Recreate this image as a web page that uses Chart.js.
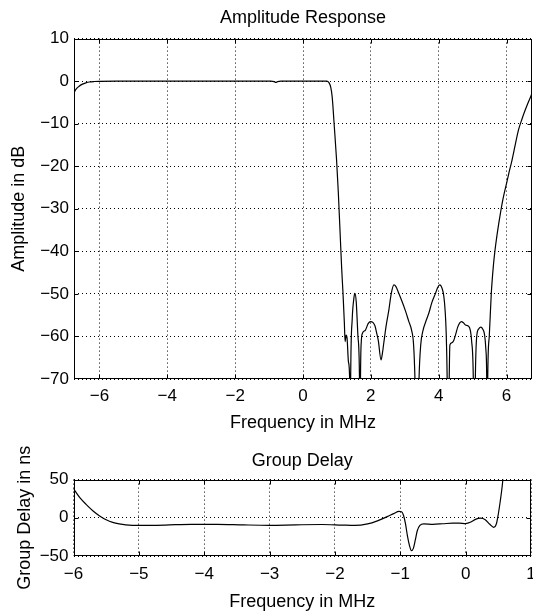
<!DOCTYPE html>
<html>
<head>
<meta charset="utf-8">
<title>Amplitude Response and Group Delay</title>
<script src="https://cdn.jsdelivr.net/npm/chart.js@4.4.1/dist/chart.umd.min.js"></script>
<style>
  html, body { margin: 0; padding: 0; background: #fff; }
  #wrap { position: relative; width: 533px; height: 613px; }
  canvas { position: absolute; left: 0; }
</style>
</head>
<body>
<div id="wrap">
  <canvas id="amp" width="533" height="440" style="top:0"></canvas>
  <canvas id="gd" width="533" height="173" style="top:440px"></canvas>
</div>
<script>
// amplitude response (MHz, dB) - values below -70 are the filter nulls, clipped by the axis
const ampFreq = [
  -6.75, -6.7, -6.6, -6.5, -6.4, -6.3, -6.15, -6.0, -5.5, -4, -2, -0.95, -0.85, -0.8, -0.75, -0.65,
  0, 0.7, 0.76, 0.82, 0.86, 0.93, 0.99, 1.04, 1.09, 1.14, 1.18, 1.22, 1.24, 1.27, 1.3, 1.34,
  1.375, 1.39, 1.405, 1.45, 1.5, 1.53, 1.57, 1.62, 1.665, 1.68, 1.695, 1.72, 1.75, 1.84, 1.92,
  1.99, 2.06, 2.12, 2.18, 2.22, 2.3, 2.34, 2.38, 2.45, 2.53, 2.6, 2.68, 2.74, 2.82, 2.92, 3.02,
  3.12, 3.2, 3.26, 3.3, 3.36, 3.42, 3.47, 3.54, 3.62, 3.71, 3.8, 3.9, 3.97, 4.03, 4.1, 4.15,
  4.19, 4.22, 4.25, 4.28, 4.31, 4.33, 4.38, 4.44, 4.5, 4.56, 4.62, 4.67, 4.73, 4.79, 4.88, 4.93,
  4.97, 5.02, 5.05, 5.08, 5.12, 5.18, 5.24, 5.3, 5.35, 5.39, 5.415, 5.43, 5.445, 5.49, 5.55,
  5.61, 5.66, 5.74, 5.82, 5.9, 6.0, 6.08, 6.16, 6.26, 6.35, 6.45, 6.55, 6.65, 6.75
];
const ampDb = [
  -2.8, -2.0, -1.2, -0.7, -0.4, -0.2, -0.08, -0.03, 0, 0, 0, 0, -0.1, -0.3, -0.1, 0,
  0, 0, -0.3, -1.5, -3.7, -11.5, -18.6, -26, -35, -44, -50, -57, -61.2, -59.7, -60.5, -66,
  -70, -95, -70, -56, -51, -49.9, -52, -60, -70, -95, -70, -61, -59.3, -58.5, -57,
  -56.5, -56.7, -57.5, -59.5, -61, -65.5, -64, -61.6, -57.5, -53.8, -50, -47.9, -48.3, -49.8, -51.8, -54,
  -56.5, -58.5, -62, -70, -95, -70, -62, -58.5, -56.5, -54.5, -52, -50, -48.5, -47.9, -48.7, -50.5,
  -54, -59, -70, -95, -70, -62, -61.5, -61, -59.5, -57.8, -56.8, -56.5, -56.8, -57.3, -57.6, -58.5,
  -61, -70, -95, -70, -60, -58.2, -57.8, -58.3, -59.5, -63, -70, -95, -70, -60, -49.9,
  -43.5, -39.7, -35, -31, -27.5, -24, -21.2, -18.6, -14.8, -11.5, -9, -6.8, -4.8, -2.9
];
const ampXTicks = [-6, -4, -2, 0, 2, 4, 6];
const ampYTicks = [10, 0, -10, -20, -30, -40, -50, -60, -70];

// group delay (MHz, ns)
const gdFreq = [
  -6.0, -5.9, -5.8, -5.7, -5.6, -5.5, -5.4, -5.3, -5.2, -5.0, -4.6, -4.2, -3.8, -3.4, -3.0, -2.6,
  -2.2, -1.9, -1.7, -1.5, -1.35, -1.2, -1.1, -1.02, -0.98, -0.95, -0.92, -0.89, -0.86, -0.83, -0.8,
  -0.77, -0.74, -0.7, -0.64, -0.5, -0.35, -0.2, -0.1, 0.0, 0.08, 0.15, 0.23, 0.3, 0.37, 0.43, 0.47,
  0.5, 0.53, 0.56, 0.58
];
const gdNs = [
  38, 26, 17, 9, 2.5, -2.5, -6, -8, -9.2, -10, -9.5, -8.5, -8.5, -9.3, -9.8, -9.2,
  -8.8, -9.5, -10, -8, -4, 1.5, 5.5, 8.5, 8, 3, -8, -24, -36, -43, -40,
  -29, -17, -10, -8, -8.5, -7.8, -7, -7, -7.5, -5.5, -2, -0.5, -2.5, -8.5, -12.5, -8,
  5, 22, 42, 60
];
const gdXTicks = [-6, -5, -4, -3, -2, -1, 0, 1];
const gdYTicks = [50, 0, -50];

const FONT = "'Liberation Sans', Arial, Helvetica, sans-serif";
const minus = v => String(v).replace('-', '\u2212');

// solid frame round the plot area plus small inward ticks, like the original
const boxPlugin = {
  id: 'box',
  afterDraw(chart) {
    const { ctx, chartArea: a, scales } = chart;
    const L = Math.round(a.left) + 0.5, R = Math.round(a.right) - 0.5;
    const T = Math.round(a.top) + 0.5, B = Math.round(a.bottom) - 0.5;
    ctx.save();
    ctx.strokeStyle = '#000';
    ctx.lineWidth = 1;
    ctx.setLineDash([]);
    ctx.strokeRect(L, T, R - L, B - T);
    const tl = 4;
    ctx.beginPath();
    scales.x.ticks.forEach(t => {
      const px = Math.round(scales.x.getPixelForValue(t.value)) + 0.5;
      if (px <= L + 1 || px >= R - 1) return;
      ctx.moveTo(px, T); ctx.lineTo(px, T + tl);
      ctx.moveTo(px, B); ctx.lineTo(px, B - tl);
    });
    scales.y.ticks.forEach(t => {
      const py = Math.round(scales.y.getPixelForValue(t.value)) + 0.5;
      if (py <= T + 1 || py >= B - 1) return;
      ctx.moveTo(L, py); ctx.lineTo(L + tl, py);
      ctx.moveTo(R, py); ctx.lineTo(R - tl, py);
    });
    ctx.stroke();
    ctx.restore();
  }
};

function makeChart(id, cfg) {
  const points = cfg.xs.map((x, i) => ({ x, y: cfg.ys[i] }));
  return new Chart(document.getElementById(id), {
    type: 'line',
    data: {
      datasets: [{
        data: points,
        borderColor: '#000',
        borderWidth: 1.2,
        pointRadius: 0,
        fill: false,
        cubicInterpolationMode: 'monotone'
      }]
    },
    options: {
      responsive: false,
      animation: false,
      events: [],
      layout: { padding: { left: 0, right: cfg.padRight, top: 0, bottom: 0 } },
      plugins: {
        legend: { display: false },
        tooltip: { enabled: false },
        title: {
          display: true,
          text: cfg.title,
          fullSize: false,
          color: '#000',
          font: { family: FONT, size: 18, weight: 'normal' },
          padding: cfg.titlePad
        }
      },
      scales: {
        x: {
          type: 'linear',
          min: cfg.xMin,
          max: cfg.xMax,
          afterBuildTicks: s => { s.ticks = cfg.xTicks.map(v => ({ value: v })); },
          afterFit: s => { s.height = cfg.xHeight; s.paddingLeft = 0; s.paddingRight = 0; },
          grid: { color: '#000', lineWidth: 1, drawTicks: false },
          border: { display: false, dash: [1, 3] },
          ticks: {
            color: '#000', padding: cfg.xTickPad, maxRotation: 0, autoSkip: false,
            font: { family: FONT, size: 17 },
            callback: minus
          },
          title: {
            display: true, text: 'Frequency in MHz', color: '#000',
            font: { family: FONT, size: 18 },
            padding: { top: 0, bottom: cfg.xTitlePad }
          }
        },
        y: {
          min: cfg.yMin,
          max: cfg.yMax,
          afterBuildTicks: s => { s.ticks = cfg.yTicks.map(v => ({ value: v })); },
          afterFit: s => { s.width = cfg.yWidth; s.paddingTop = 0; s.paddingBottom = 0; },
          grid: { color: '#000', lineWidth: 1, drawTicks: false },
          border: { display: false, dash: [1, 3] },
          ticks: {
            color: '#000', padding: 5, autoSkip: false,
            font: { family: FONT, size: 17 },
            callback: minus
          },
          title: {
            display: true, text: cfg.yTitle, color: '#000',
            font: { family: FONT, size: 18 },
            padding: { top: cfg.yTitlePad, bottom: 0 }
          }
        }
      }
    },
    plugins: [boxPlugin]
  });
}

makeChart('amp', {
  xs: ampFreq, ys: ampDb,
  title: 'Amplitude Response', titlePad: { top: 7, bottom: 10 },
  yTitle: 'Amplitude in dB', yTitlePad: 8,
  xMin: -6.75, xMax: 6.75, yMin: -70, yMax: 10,
  xTicks: ampXTicks, yTicks: ampYTicks,
  xHeight: 61, yWidth: 74, padRight: 1,
  xTickPad: 7, xTitlePad: 6
});

makeChart('gd', {
  xs: gdFreq, ys: gdNs,
  title: 'Group Delay', titlePad: { top: 10, bottom: 8 },
  yTitle: 'Group Delay in ns', yTitlePad: 14,
  xMin: -6, xMax: 1, yMin: -50, yMax: 50,
  xTicks: gdXTicks, yTicks: gdYTicks,
  xHeight: 57, yWidth: 73.5, padRight: 2,
  xTickPad: 8, xTitlePad: 0
});
</script>
</body>
</html>
